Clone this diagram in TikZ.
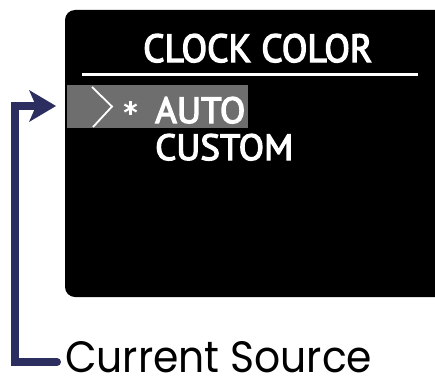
\documentclass[tikz,border=0pt]{standalone}
\usepackage{fontspec}
\setmainfont{PT Sans}
\newfontfamily\menufont{PT Sans}[FakeBold=3.5]
\newfontfamily\labelfont{Poppins}
\definecolor{navy}{HTML}{2B2E5E}
\definecolor{hilite}{HTML}{6E6E6E}
\tikzset{
  x=1pt, y=1pt,
  menutext/.style={text=white, inner sep=0pt, anchor=base west, font=\menufont},
  pointer/.style={draw=navy, line width=8pt},
}
\begin{document}
\begin{tikzpicture}
\useasboundingbox (0,0) rectangle (435,381);
% display panel, cut off on the right
\fill[black] (435,371) -- (75,371) arc[start angle=90, end angle=180, radius=10]
  -- (65,94) arc[start angle=180, end angle=270, radius=10] -- (435,84) -- cycle;
% title and rule
\node[menutext] (title) at (143,319) {\resizebox{229pt}{28pt}{CLOCK COLOR}};
\fill[white] (82,305.5) rectangle (418,308.5);
% highlighted entry with cursor and selection mark
\fill[hilite] (67,253) rectangle (248,296);
\draw[white, line width=1.8pt, line join=miter] (92,294) -- (112,274.5) -- (93,254);
\coordinate (star) at (130.5,273);
\foreach \a in {90,30,-30} {
  \draw[white, line width=2.2pt] (star) ++(\a:7) -- ++(\a+180:14);
}
\node[menutext] (auto) at (155,258) {\resizebox{90pt}{26pt}{AUTO}};
\node[menutext] (custom) at (155,221) {\resizebox{138pt}{26pt}{CUSTOM}};
% callout
\coordinate (tip) at (56,275);
\node[inner sep=0pt, anchor=base west, text=black] (src) at (65,9)
  {\labelfont\resizebox{307pt}{31pt}{Current Source}};
\draw[pointer, line cap=round] (57,19) -- (15,19) -- (15,275) -- (36,275);
\fill[navy] (tip) -- (29,291) -- (36,275) -- (29,259) -- cycle;
\end{tikzpicture}
\end{document}
